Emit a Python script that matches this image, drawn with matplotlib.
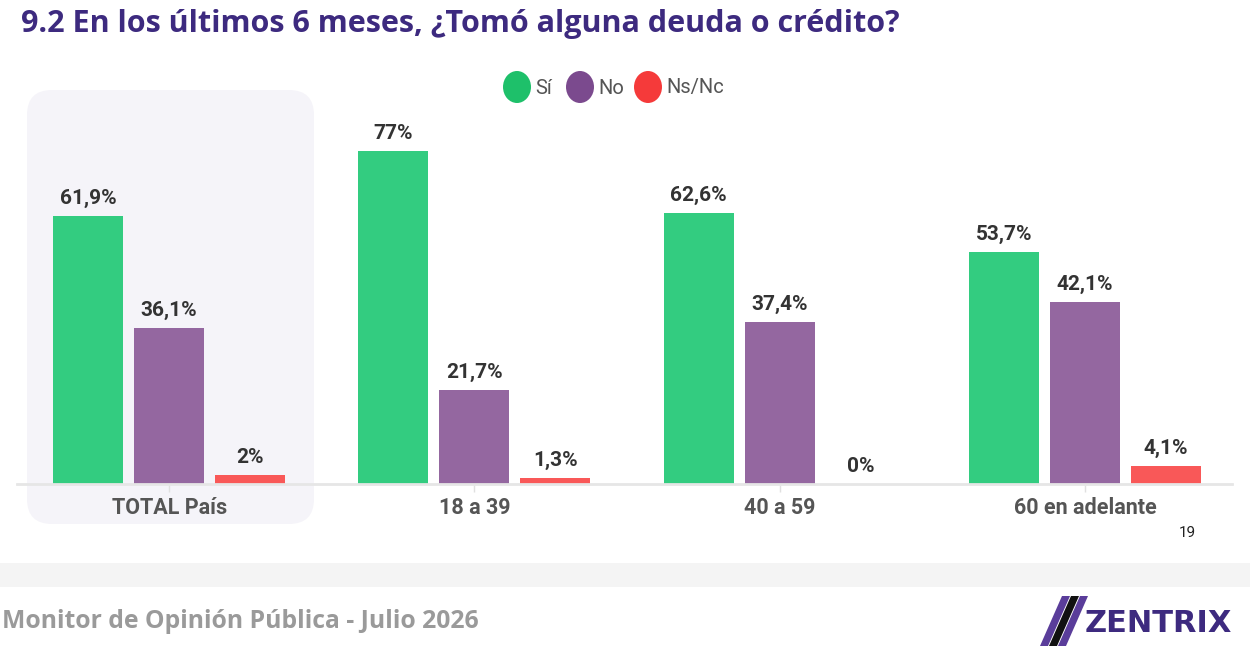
import matplotlib.pyplot as plt
import numpy as np
from matplotlib.patches import FancyBboxPatch, Polygon, Rectangle, Ellipse

# datos
grupos = ["TOTAL País", "18 a 39", "40 a 59", "60 en adelante"]
si = [61.9, 77, 62.6, 53.7]
no = [36.1, 21.7, 37.4, 42.1]
nsnc = [2, 1.3, 0, 4.1]
etiq_si = ["61,9%", "77%", "62,6%", "53,7%"]
etiq_no = ["36,1%", "21,7%", "37,4%", "42,1%"]
etiq_nsnc = ["2%", "1,3%", "0%", "4,1%"]
series = ["Sí", "No", "Ns/Nc"]

c_bar = ["#33cc80", "#9467a0", "#f95858"]
c_leg = ["#1ec06a", "#7b4a8e", "#f53a3a"]
W, H = 1250, 655

fig = plt.figure(figsize=(12.5, 6.55), dpi=100)
fig.patch.set_facecolor("white")

def fx(px):
    return px / W

def fy(py):
    return 1 - py / H

# caja de fondo para TOTAL
fig.patches.append(FancyBboxPatch((fx(27), fy(524)), fx(314 - 27), (524 - 90) / H,
                                  boxstyle="round,pad=0,rounding_size=0.02",
                                  mutation_aspect=W / H,
                                  transform=fig.transFigure, facecolor="#f5f4f9",
                                  edgecolor="none", zorder=-5))

# franja gris del pie
fig.patches.append(Rectangle((0, fy(587)), 1, 24 / H, transform=fig.transFigure,
                             facecolor="#f4f4f4", edgecolor="none", zorder=-5))

ax_l, ax_r = 17, 1232
base = 484
ppu = 4.325
ymax = 80
ax = fig.add_axes([fx(ax_l), fy(base), fx(ax_r - ax_l), ymax * ppu / H])
ax.set_facecolor("none")
ax.set_zorder(1)

x = np.arange(len(grupos))
bw = 70 / 305
off = 81 / 305
for i, (vals, labs) in enumerate([(si, etiq_si), (no, etiq_no), (nsnc, etiq_nsnc)]):
    pos = x + (i - 1) * off
    ax.bar(pos, vals, width=bw, color=c_bar[i], zorder=2)
    for p, v, t in zip(pos, vals, labs):
        ax.text(p, v + 1.9, t, ha="center", va="bottom", fontsize=15,
                color="#333333", fontweight="semibold", family="Roboto")

ax.set_xlim(-(169 - ax_l) / 305, 3 + (ax_r - 1085) / 305)
ax.set_ylim(0, ymax)
for s in ["top", "right", "left"]:
    ax.spines[s].set_visible(False)
ax.spines["bottom"].set_color("#e6e6e6")
ax.spines["bottom"].set_linewidth(2)
ax.set_yticks([])
ax.set_xticks(x)
ax.set_xticklabels(grupos, fontsize=15.5, color="#555555", family="Roboto",
                   fontweight="semibold")
ax.tick_params(axis="x", length=6, width=1, color="#e0e0e0", pad=3)

# leyenda
leg_cx = [517, 580, 648]
for cx, c, t in zip(leg_cx, c_leg, series):
    fig.patches.append(Ellipse((fx(cx), fy(87)), fx(28), 32 / H,
                               transform=fig.transFigure, facecolor=c,
                               edgecolor="none"))
    fig.text(fx(cx + 18), fy(88), t, ha="left", va="center", fontsize=14.5,
             color="#555555", family="Roboto")

# titulo
fig.text(fx(21), fy(24), "9.2 En los últimos 6 meses, ¿Tomó alguna deuda o crédito?",
         ha="left", va="center", fontsize=22, fontweight="bold",
         color="#3d2a7f", family="Open Sans")

# numero de pagina
fig.text(fx(1179), fy(533), "19", ha="left", va="center", fontsize=11,
         color="#222222", family="Roboto")

# pie
fig.text(fx(2), fy(622), "Monitor de Opinión Pública - Julio 2026", ha="left",
         va="center", fontsize=17.8, fontweight="bold", color="#9a9a9a",
         family="Open Sans")
fig.text(fx(1085), fy(624), "ZENTRIX", ha="left", va="center", fontsize=22,
         fontweight="bold", color="#3d2a7f", family="DejaVu Sans")

# logo: franjas diagonales
def franja(x0, c):
    pts = [(x0 + 22, 596), (x0 + 30, 596), (x0 + 8, 646), (x0, 646)]
    fig.patches.append(Polygon([(fx(a), fy(b)) for a, b in pts], closed=True,
                               transform=fig.transFigure, facecolor=c,
                               edgecolor="none"))
franja(1040, "#5a3d9a")
franja(1049, "#111111")
franja(1058, "#5a3d9a")

fig.savefig("out.png", dpi=100)
